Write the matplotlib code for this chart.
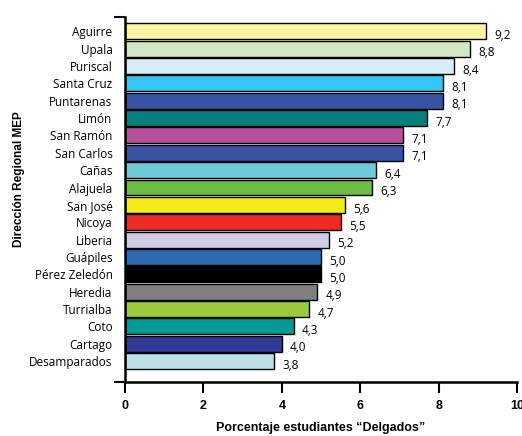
import matplotlib.pyplot as plt

regiones = ["Aguirre", "Upala", "Puriscal", "Santa Cruz", "Puntarenas", "Limón",
            "San Ramón", "San Carlos", "Cañas", "Alajuela", "San José", "Nicoya",
            "Liberia", "Guápiles", "Pérez Zeledón", "Heredia", "Turrialba", "Coto",
            "Cartago", "Desamparados"]
porcentajes = [9.2, 8.8, 8.4, 8.1, 8.1, 7.7, 7.1, 7.1, 6.4, 6.3, 5.6, 5.5,
               5.2, 5.0, 5.0, 4.9, 4.7, 4.3, 4.0, 3.8]
colores = ["#FAF5A0", "#D2E8C4", "#D4EEF3", "#33C5F3", "#3A52A4", "#067F7C",
           "#B5529B", "#3A52A4", "#6CCAD9", "#6ABD45", "#F5EB1A", "#EE2A27",
           "#CCCCE6", "#2E69B3", "#000000", "#808080", "#9BCB3C", "#039A93",
           "#333A94", "#BDE0E4"]
xticks = [0, 2, 4, 6, 8, 10]


def graficar(regiones, porcentajes, colores):
    fig = plt.figure(figsize=(5.22, 4.36), dpi=100)
    ax = fig.add_axes([0.2395, 0.124, 0.751, 0.837])

    pos = list(range(len(regiones)))
    ax.barh(pos, porcentajes, height=0.92, color=colores,
            edgecolor="black", linewidth=1.0)

    for y, v in zip(pos, porcentajes):
        ax.annotate(f"{v:.1f}".replace(".", ","), (v, y), xytext=(6, -3),
                    textcoords="offset points", va="center", ha="left",
                    fontsize=8.5, family="Open Sans")

    ylo, yhi = len(regiones) - 1 + 1.21, -0.83
    ax.set_ylim(ylo, yhi)
    ax.set_xlim(0, 10)

    ax.set_yticks(pos)
    ax.set_yticklabels(regiones, family="Open Sans", fontsize=8.5)
    ax.tick_params(axis="y", which="major", length=0, pad=9)
    ax.set_yticks([ylo, yhi], minor=True)
    ax.tick_params(axis="y", which="minor", length=8, width=1.5)

    ax.set_xticks(xticks)
    ax.set_xticklabels([str(t) for t in xticks], family="Liberation Sans",
                       fontweight="bold", fontsize=9)
    ax.tick_params(axis="x", length=8, width=1.5, pad=5)

    for s in ["top", "right"]:
        ax.spines[s].set_visible(False)
    ax.spines["left"].set_linewidth(1.8)
    ax.spines["bottom"].set_linewidth(1.8)

    ax.set_xlabel("Porcentaje estudiantes “Delgados”", family="Liberation Sans",
                  fontweight="bold", fontsize=9, labelpad=7)
    ax.set_ylabel("Dirección Regional MEP", family="Liberation Sans",
                  fontweight="bold", fontsize=8.5)
    ax.yaxis.set_label_coords(-0.255, 0.555)

    fig.savefig("out.png", dpi=100)


def main():
    graficar(regiones, porcentajes, colores)


if __name__ == "__main__":
    main()
